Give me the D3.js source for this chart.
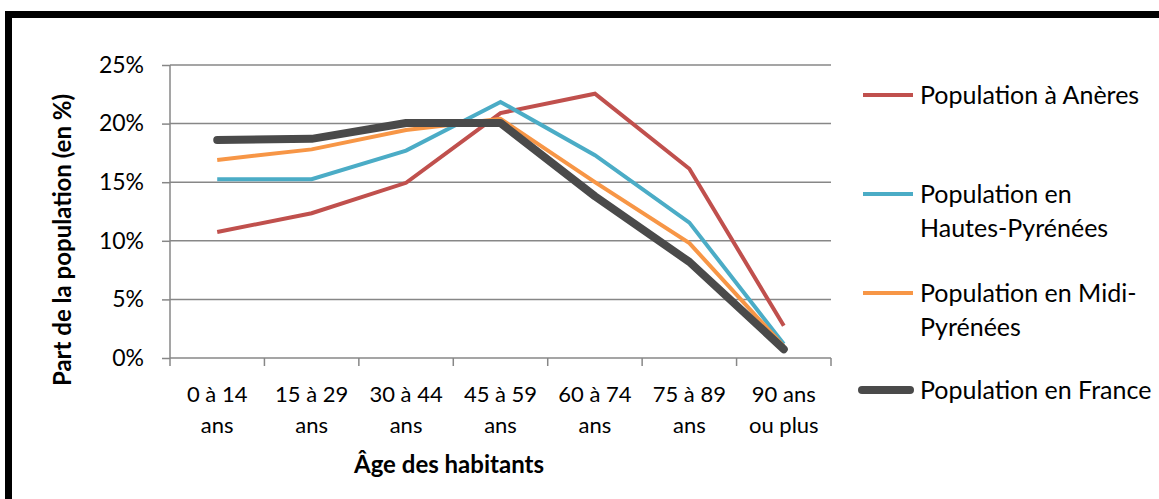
<!DOCTYPE html>
<html>
<head>
<meta charset="utf-8">
<script src="https://cdn.jsdelivr.net/npm/d3@7"></script>
<style>
  body { margin: 0; background: #fff; }
  text { font-family: Lato, "Open Sans", sans-serif; fill: #000; }
</style>
</head>
<body>
<div id="chart"></div>
<script>
// categories (two lines each, as in the original axis)
var categories = ["0 à 14 ans", "15 à 29 ans", "30 à 44 ans", "45 à 59 ans", "60 à 74 ans", "75 à 89 ans", "90 ans ou plus"];
var catLines = [["0 à 14", "ans"], ["15 à 29", "ans"], ["30 à 44", "ans"], ["45 à 59", "ans"], ["60 à 74", "ans"], ["75 à 89", "ans"], ["90 ans", "ou plus"]];

// share of population, in %
var aneres = [10.75, 12.35, 14.95, 20.9, 22.55, 16.15, 2.75];
var hautesPyrenees = [15.25, 15.25, 17.7, 21.85, 17.3, 11.55, 1.2];
var midiPyrenees = [16.9, 17.8, 19.45, 20.4, 15.0, 9.8, 1.0];
var france = [18.6, 18.7, 20.05, 20.05, 13.8, 8.2, 0.75];

var seriesNames = [["Population à Anères"], ["Population en", "Hautes-Pyrénées"], ["Population en Midi-", "Pyrénées"], ["Population en France"]];
var yTicks = [0, 5, 10, 15, 20, 25];

var w = 1159, h = 499;
var plot = {left: 170, right: 831, top: 65, bottom: 358};
var colors = ["#c0504d", "#4bacc6", "#f79646", "#4a4a4a"];
var widths = [4, 4, 4, 8];

var svg = d3.select("#chart").append("svg")
    .attr("width", w)
    .attr("height", h);

// thick black frame (runs off the right and bottom edges)
svg.append("rect")
    .attr("x", 8.5).attr("y", 14.5)
    .attr("width", 1300).attr("height", 700)
    .attr("fill", "#fff")
    .attr("stroke", "#000")
    .attr("stroke-width", 7);

var x = d3.scaleBand().domain(categories).range([plot.left, plot.right]);
var y = d3.scaleLinear().domain([0, 25]).range([plot.bottom, plot.top]);

// gridlines
svg.append("g")
    .selectAll("line")
    .data(yTicks.slice(1))
    .enter()
    .append("line")
    .attr("x1", plot.left).attr("x2", plot.right)
    .attr("y1", function(d) { return y(d); })
    .attr("y2", function(d) { return y(d); })
    .attr("stroke", "#878787")
    .attr("stroke-width", 1.5);

// y axis
var yAxis = svg.append("g")
    .attr("transform", "translate(" + plot.left + ",0)")
    .call(d3.axisLeft(y).tickValues(yTicks).tickSize(8).tickPadding(18)
      .tickFormat(function(d) { return d + "%"; }));
yAxis.selectAll("path, line").attr("stroke", "#878787").attr("stroke-width", 1.5);
yAxis.select(".domain").attr("d", "M0," + plot.top + "V" + plot.bottom);
yAxis.selectAll("text").style("font-size", "23px").attr("fill", "#000");

// x axis
var xAxis = svg.append("g")
    .attr("transform", "translate(0," + plot.bottom + ")")
    .call(d3.axisBottom(x).tickSize(0).tickFormat(""));
xAxis.select(".domain").attr("d", "M" + plot.left + ",0H" + plot.right)
    .attr("stroke", "#878787").attr("stroke-width", 1.5);
xAxis.selectAll(".tick text").remove();

svg.append("g")
    .selectAll("line")
    .data(categories.concat([null]))
    .enter()
    .append("line")
    .attr("x1", function(d) { return d === null ? plot.right : x(d); })
    .attr("x2", function(d) { return d === null ? plot.right : x(d); })
    .attr("y1", plot.bottom).attr("y2", plot.bottom + 8)
    .attr("stroke", "#878787")
    .attr("stroke-width", 1.5);

var catLabels = svg.append("g")
    .selectAll("text")
    .data(categories)
    .enter()
    .append("text")
    .attr("text-anchor", "middle")
    .style("font-size", "22px");
catLabels.each(function(d, i) {
  var t = d3.select(this);
  catLines[i].forEach(function(line, j) {
    t.append("tspan")
      .attr("x", x(d) + x.bandwidth() / 2)
      .attr("y", 402 + j * 31)
      .text(line);
  });
});

// axis titles
svg.append("text")
    .attr("x", 449).attr("y", 473)
    .attr("text-anchor", "middle")
    .style("font-size", "24px")
    .style("font-weight", "bold")
    .text("Âge des habitants");

svg.append("text")
    .attr("transform", "translate(71,240) rotate(-90)")
    .attr("text-anchor", "middle")
    .style("font-size", "24px")
    .style("font-weight", "bold")
    .text("Part de la population (en %)");

// series lines
var line = d3.line()
    .x(function(d, i) { return x(categories[i]) + x.bandwidth() / 2; })
    .y(function(d) { return y(d); });

var allSeries = [aneres, hautesPyrenees, midiPyrenees, france];
svg.append("g")
    .selectAll("path")
    .data(allSeries)
    .enter()
    .append("path")
    .attr("d", function(d) { return line(d); })
    .attr("fill", "none")
    .attr("stroke", function(d, i) { return colors[i]; })
    .attr("stroke-width", function(d, i) { return widths[i]; })
    .attr("stroke-linejoin", function(d, i) { return i === 3 ? "round" : "miter"; })
    .attr("stroke-linecap", function(d, i) { return i === 3 ? "round" : "butt"; });

// legend
var legendY = [95, 194, 293, 390];
var legend = svg.append("g")
    .selectAll("g")
    .data(seriesNames)
    .enter()
    .append("g")
    .attr("transform", function(d, i) { return "translate(0," + legendY[i] + ")"; });

legend.append("line")
    .attr("x1", function(d, i) { return i === 3 ? 862 : 863; })
    .attr("x2", function(d, i) { return i === 3 ? 910 : 913; })
    .attr("y1", 0).attr("y2", 0)
    .attr("stroke", function(d, i) { return colors[i]; })
    .attr("stroke-width", function(d, i) { return widths[i]; })
    .attr("stroke-linecap", function(d, i) { return i === 3 ? "round" : "butt"; });

legend.append("text")
    .style("font-size", "25px")
    .each(function(d) {
      var t = d3.select(this);
      d.forEach(function(l, j) {
        t.append("tspan")
          .attr("x", 920)
          .attr("y", 9 + j * 34)
          .text(l);
      });
    });
</script>
</body>
</html>
